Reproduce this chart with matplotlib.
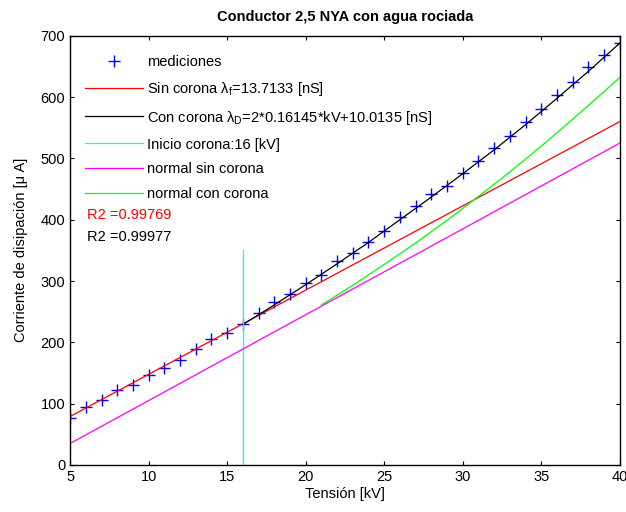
import numpy as np
import matplotlib.pyplot as plt

plt.rcParams["font.family"] = ["Liberation Sans", "DejaVu Sans"]
plt.rcParams["mathtext.fontset"] = "custom"
plt.rcParams["mathtext.rm"] = "Liberation Sans"
plt.rcParams["mathtext.it"] = "Liberation Sans"

# Measured points
kv_med = [5, 6, 7, 8, 9, 10, 11, 12, 13, 14, 15, 16, 17, 18, 19, 20, 21, 22,
          23, 24, 25, 26, 27, 28, 29, 30, 31, 32, 33, 34, 35, 36, 37, 38, 39, 40]
i_med = [76, 95, 106, 122, 131, 147, 158, 171, 189, 205, 216, 230, 248, 266,
         278, 296, 310, 332, 346, 364, 382, 405, 422, 442, 455, 476, 496, 517,
         536, 559, 581, 604, 624, 649, 669, 688]

# Linear fit without corona
kv_sin = [5, 40]
i_sin = [79, 560]

# Fit with corona (from onset)
kv_con = [16, 18, 20, 22, 24, 26, 28, 30, 32, 34, 36, 38, 40]
i_con = [229, 261, 294, 328, 363, 400, 437, 475, 514, 555, 598, 642, 688]

# Corona onset marker
kv_inicio = [16, 16]
i_inicio = [0, 350]

# "Normal" curves
kv_nsin = [5, 40]
i_nsin = [35, 525]
kv_ncon = [21, 23, 25, 27, 29, 31, 33, 35, 37, 39, 40]
i_ncon = [261, 293, 327, 362, 399, 438, 478, 520, 564, 609, 632]

r2_sin = "0.99769"
r2_con = "0.99977"

fig, ax = plt.subplots(figsize=(6.26, 5.12), dpi=100)
fig.subplots_adjust(left=0.112, right=0.990, bottom=0.092, top=0.930)

ax.plot(kv_med, i_med, "+", color="#0000ff", markersize=9, markeredgewidth=1.0,
        label="mediciones")
ax.plot(kv_sin, i_sin, color="#ff0000", lw=0.9,
        label=r"Sin corona $\lambda_f$=13.7133 [nS]")
ax.plot(kv_con, i_con, color="black", lw=0.9,
        label=r"Con corona $\lambda_D$=2*0.16145*kV+10.0135 [nS]")
ax.plot(kv_inicio, i_inicio, color="#00ffff", lw=0.9,
        label="Inicio corona:16 [kV]")
ax.plot(kv_nsin, i_nsin, color="#ff00ff", lw=0.9, label="normal sin corona")
ax.plot(kv_ncon, i_ncon, color="#00ff00", lw=0.9, label="normal con corona")

ax.legend(loc="upper left", frameon=False, fontsize=10.5, handlelength=4.0,
          handletextpad=0.3, labelspacing=0.75, borderaxespad=0.6,
          bbox_to_anchor=(0.0, 0.99))

ax.text(6.1, 408, "R2 =" + r2_sin, color="#ff0000", fontsize=10.5, va="center")
ax.text(6.1, 372, "R2 =" + r2_con, color="black", fontsize=10.5, va="center")

ax.set_xlim(5, 40)
ax.set_ylim(0, 700)
ax.set_xticks(np.arange(5, 41, 5))
ax.set_yticks(np.arange(0, 701, 100))
ax.tick_params(direction="in", top=True, right=True, length=3, labelsize=10.5)
for s in ax.spines.values():
    s.set_linewidth(1.0)

ax.set_title("Conductor 2,5 NYA con agua rociada", fontsize=10.5,
             fontweight="bold", pad=11)
ax.set_xlabel("Tensión [kV]", fontsize=10.5, labelpad=2)
ax.set_ylabel("Corriente de disipación [μ A]", fontsize=10.5, labelpad=9)

fig.savefig("out.png", dpi=100)
